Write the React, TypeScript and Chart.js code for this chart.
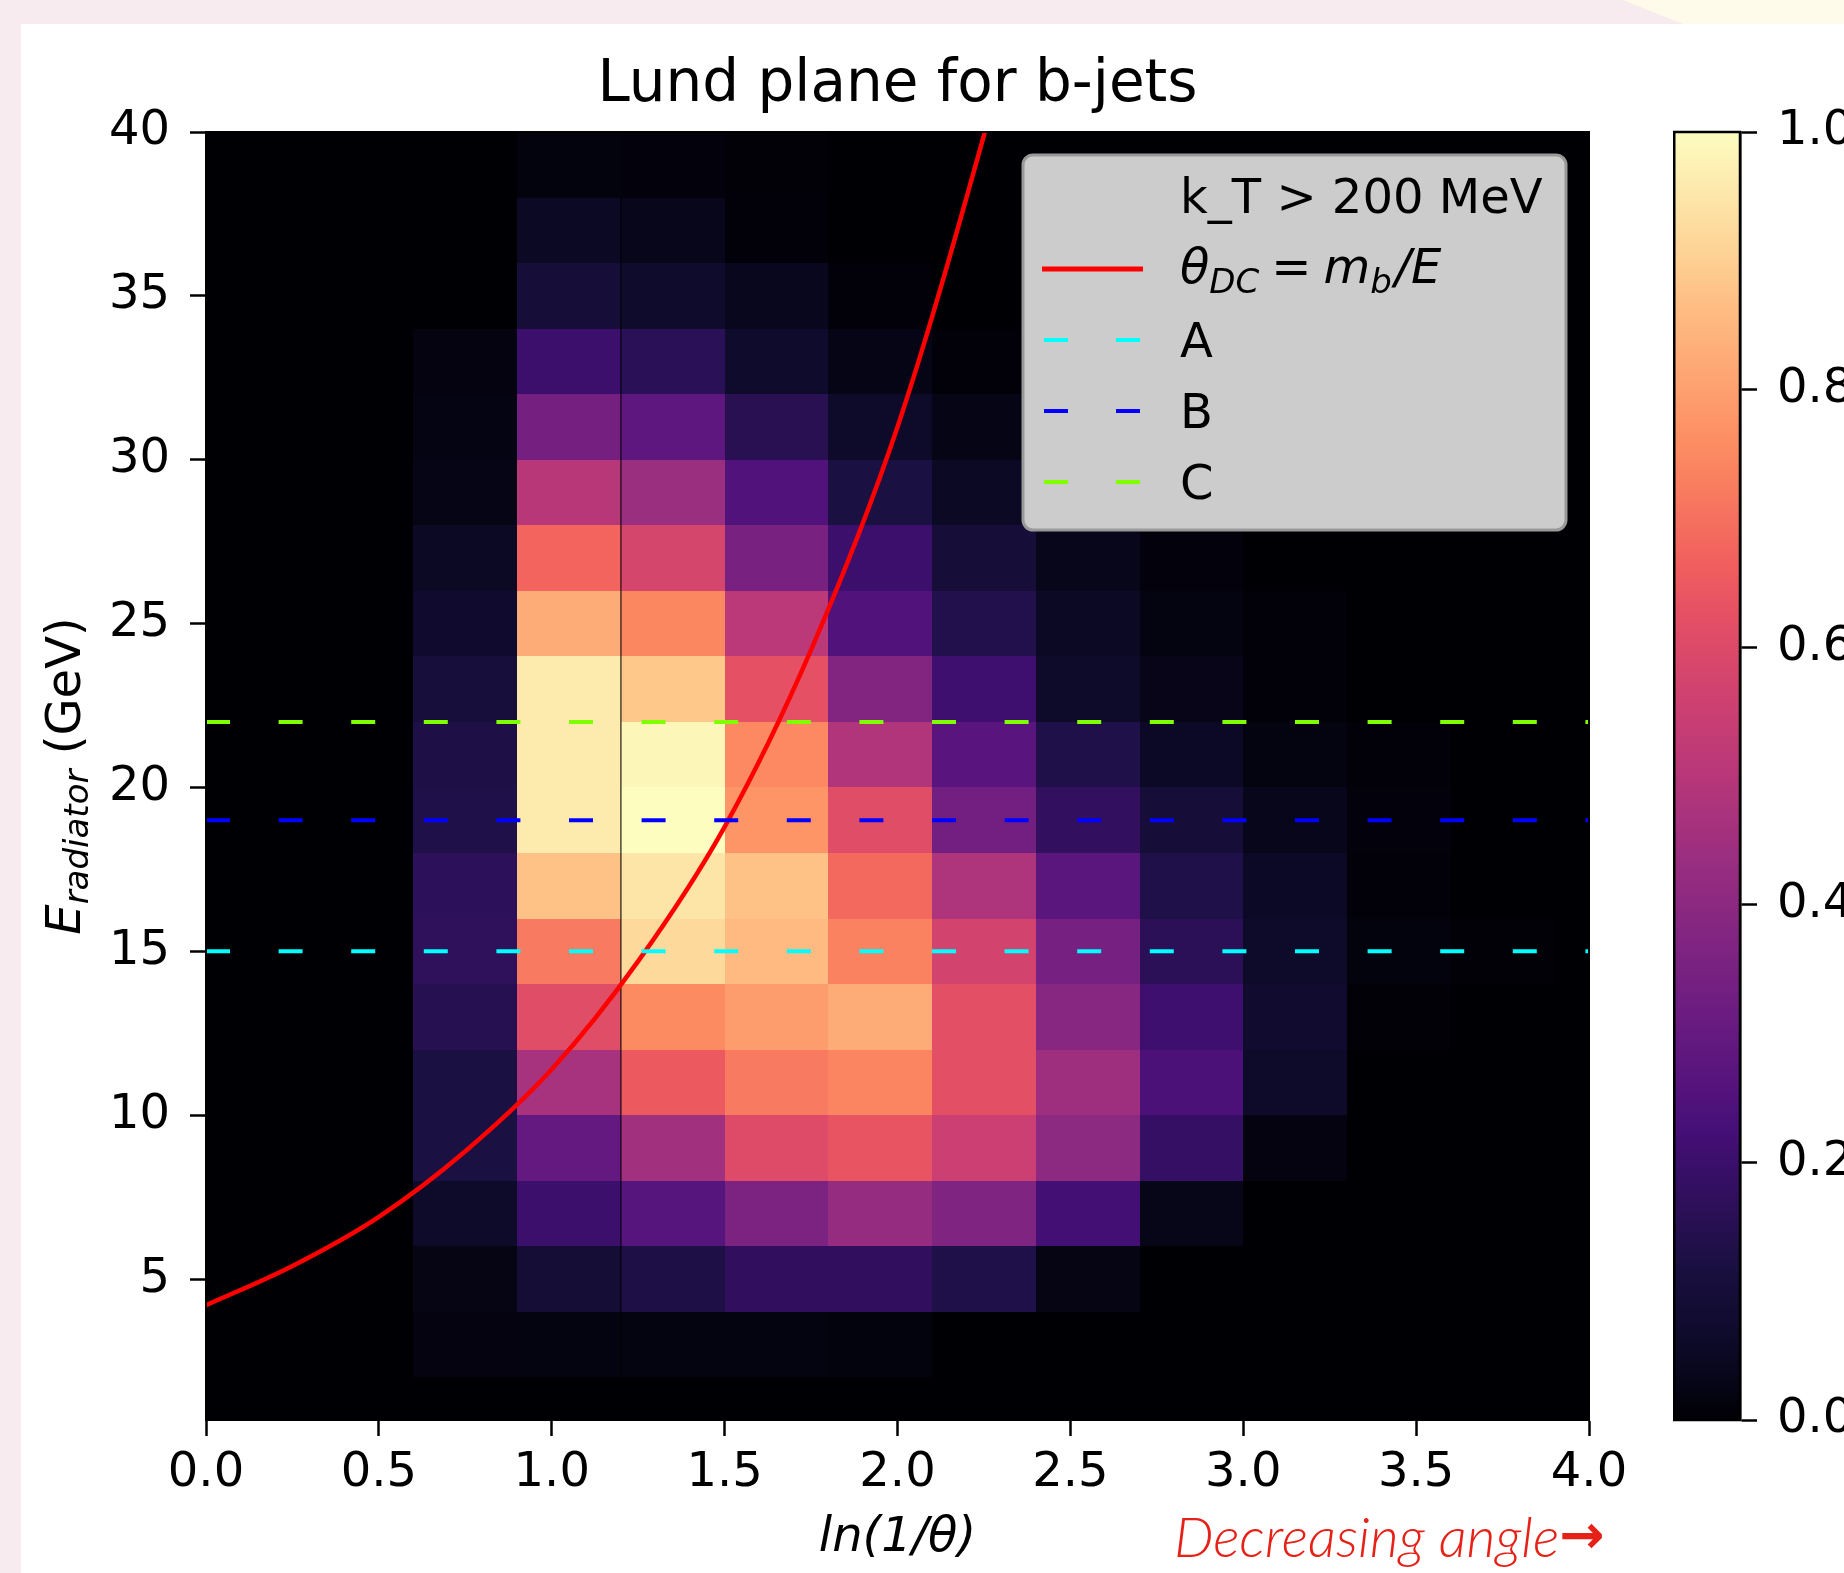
import React, { useEffect, useRef } from "react";
import { Chart, registerables } from "chart.js";

Chart.register(...registerables);

const FONT = "'DejaVu Sans', sans-serif";

// ---------------- data ----------------
const titleText = "Lund plane for b-jets";
const xTitle = "ln(1/θ)";
const legendHeader = "k_T > 200 MeV";

// bin edges of the Lund-plane histogram
const thetaBinEdges = [0, 0.3, 0.6, 0.9, 1.2, 1.5, 1.8, 2.1, 2.4, 2.7, 3.0, 3.3, 3.6, 3.9, 4.2];
const energyBinEdges = [0, 2, 4, 6, 8, 10, 12, 14, 16, 18, 20, 22, 24, 26, 28, 30, 32, 34, 36, 38, 40];

// normalised density: one row per energy bin (bottom to top), one value per ln(1/θ) bin
const lundDensity: number[][] = [
  [0, 0, 0, 0, 0, 0, 0, 0, 0, 0, 0, 0, 0, 0],
  [0, 0, 0.017, 0.02, 0.018, 0.018, 0.015, 0, 0, 0, 0, 0, 0, 0],
  [0, 0, 0.025, 0.095, 0.13, 0.175, 0.175, 0.135, 0.025, 0, 0, 0, 0, 0],
  [0, 0, 0.065, 0.2, 0.262, 0.36, 0.425, 0.37, 0.22, 0.033, 0, 0, 0, 0],
  [0, 0, 0.12, 0.295, 0.45, 0.605, 0.635, 0.55, 0.4, 0.185, 0.017, 0, 0, 0],
  [0, 0, 0.12, 0.465, 0.65, 0.72, 0.74, 0.62, 0.444, 0.237, 0.065, 0, 0, 0],
  [0, 0, 0.15, 0.61, 0.755, 0.793, 0.824, 0.62, 0.39, 0.21, 0.078, 0.005, 0, 0],
  [0, 0, 0.17, 0.72, 0.922, 0.857, 0.735, 0.57, 0.345, 0.162, 0.065, 0.015, 0.005, 0],
  [0, 0, 0.165, 0.875, 0.946, 0.875, 0.685, 0.48, 0.275, 0.135, 0.055, 0.008, 0, 0],
  [0, 0, 0.135, 0.96, 1.0, 0.775, 0.61, 0.335, 0.18, 0.1, 0.035, 0.012, 0, 0],
  [0, 0, 0.13, 0.96, 0.985, 0.75, 0.485, 0.27, 0.135, 0.055, 0.018, 0.008, 0, 0],
  [0, 0, 0.105, 0.96, 0.885, 0.625, 0.375, 0.21, 0.065, 0.03, 0.008, 0, 0, 0],
  [0, 0, 0.075, 0.824, 0.745, 0.51, 0.25, 0.14, 0.05, 0.018, 0.008, 0, 0, 0],
  [0, 0, 0.05, 0.675, 0.58, 0.35, 0.205, 0.1, 0.035, 0.012, 0, 0, 0, 0],
  [0, 0, 0.028, 0.5, 0.435, 0.25, 0.12, 0.05, 0.012, 0, 0, 0, 0, 0],
  [0, 0, 0.022, 0.34, 0.28, 0.155, 0.065, 0.028, 0.008, 0, 0, 0, 0, 0],
  [0, 0, 0.017, 0.2, 0.16, 0.07, 0.028, 0.008, 0, 0, 0, 0, 0, 0],
  [0, 0, 0, 0.1, 0.07, 0.04, 0.008, 0, 0, 0, 0, 0, 0, 0],
  [0, 0, 0, 0.05, 0.035, 0.008, 0, 0, 0, 0, 0, 0, 0, 0],
  [0, 0, 0, 0.015, 0.012, 0.005, 0, 0, 0, 0, 0, 0, 0, 0],
];

const xTickValues = [0, 0.5, 1, 1.5, 2, 2.5, 3, 3.5, 4];
const yTickValues = [5, 10, 15, 20, 25, 30, 35, 40];
const colorbarTicks = [0, 0.2, 0.4, 0.6, 0.8, 1.0];

// dead-cone curve θ_DC = m_b/E
const deadConeX = [0, 0.25, 0.5, 0.75, 1.0, 1.25, 1.5, 1.75, 2.0, 2.25, 2.3];
const deadConeE = [4.2, 5.4, 6.9, 8.9, 11.4, 14.7, 18.8, 24.2, 31.0, 39.9, 41.9];

// horizontal energy cuts
const cutNames = ["A", "B", "C"];
const cutEnergies = [15, 19, 22];
const cutColors = ["#00ffff", "#0000ff", "#7fff00"];

// ---------------- colormap (magma) ----------------
const magmaStops: [number, string][] = [
  [0, "#000004"], [0.05, "#0b0924"], [0.111, "#180f3d"], [0.125, "#1c1044"],
  [0.222, "#440f76"], [0.25, "#51127c"], [0.333, "#721f81"], [0.375, "#812581"],
  [0.444, "#9e2f7f"], [0.5, "#b73779"], [0.556, "#cd4071"], [0.625, "#e55064"],
  [0.667, "#f1605d"], [0.75, "#fc8961"], [0.778, "#fd9668"], [0.875, "#fec287"],
  [0.889, "#feca8d"], [0.95, "#fde6a9"], [1, "#fcfdbf"],
];
function hexRgb(h: string) {
  const n = parseInt(h.slice(1), 16);
  return [(n >> 16) & 255, (n >> 8) & 255, n & 255];
}
function magma(v: number) {
  const t = Math.max(0, Math.min(1, v));
  for (let i = 0; i < magmaStops.length - 1; i++) {
    const [t0, c0] = magmaStops[i];
    const [t1, c1] = magmaStops[i + 1];
    if (t >= t0 && t <= t1) {
      const f = (t - t0) / (t1 - t0);
      const a = hexRgb(c0), b = hexRgb(c1);
      return `rgb(${Math.round(a[0] + (b[0] - a[0]) * f)},${Math.round(a[1] + (b[1] - a[1]) * f)},${Math.round(a[2] + (b[2] - a[2]) * f)})`;
    }
  }
  return magmaStops[magmaStops.length - 1][1];
}

// ---------------- plugins ----------------
const heatmapPlugin = {
  id: "lundHeatmap",
  beforeDatasetsDraw(chart: any) {
    const { ctx, chartArea: ca, scales } = chart;
    const x = scales.x, y = scales.y;
    ctx.save();
    ctx.beginPath();
    ctx.rect(ca.left, ca.top, ca.right - ca.left, ca.bottom - ca.top);
    ctx.clip();
    ctx.fillStyle = magma(0);
    ctx.fillRect(ca.left, ca.top, ca.right - ca.left, ca.bottom - ca.top);
    lundDensity.forEach((row, j) => {
      row.forEach((v, i) => {
        const x0 = Math.round(x.getPixelForValue(thetaBinEdges[i]));
        const x1 = Math.round(x.getPixelForValue(thetaBinEdges[i + 1]));
        const y0 = Math.round(y.getPixelForValue(energyBinEdges[j + 1]));
        const y1 = Math.round(y.getPixelForValue(energyBinEdges[j]));
        ctx.fillStyle = magma(v);
        ctx.fillRect(x0, y0, x1 - x0, y1 - y0);
      });
    });
    ctx.restore();
  },
};

function drawPieces(ctx: CanvasRenderingContext2D, x: number, baseline: number, pieces: { t: string; it?: boolean; sub?: boolean; gap?: number; after?: number }[]) {
  let cx = x;
  for (const p of pieces) {
    const size = p.sub ? 34 : 48;
    ctx.font = `${p.it ? "italic " : ""}${size}px ${FONT}`;
    cx += p.gap || 0;
    ctx.fillText(p.t, cx, baseline + (p.sub ? 10 : 0));
    cx += ctx.measureText(p.t).width + (p.gap || 0) + (p.after || 0);
  }
}

const overlayPlugin = {
  id: "lundOverlay",
  afterDatasetsDraw(chart: any) {
    const { ctx, chartArea: ca } = chart;
    ctx.save();
    // spines
    ctx.strokeStyle = "#000";
    ctx.lineWidth = 2;
    ctx.strokeRect(ca.left, ca.top, ca.right - ca.left, ca.bottom - ca.top);

    // legend box
    const w = 543, h = 375;
    const lx = ca.right - 23 - w;
    const ly = ca.top + 23;
    ctx.beginPath();
    (ctx as any).roundRect(lx, ly, w, h, 10);
    ctx.fillStyle = "#cccccc";
    ctx.fill();
    ctx.strokeStyle = "#999999";
    ctx.lineWidth = 3;
    ctx.stroke();

    const hx0 = lx + 19, hx1 = lx + 120, tx = lx + 157;
    ctx.fillStyle = "#000";
    ctx.textBaseline = "alphabetic";
    ctx.textAlign = "left";
    ctx.font = `48px ${FONT}`;
    ctx.fillText(legendHeader, tx, ly + 58);

    // red curve entry
    ctx.strokeStyle = "#ff0000";
    ctx.lineWidth = 5;
    ctx.setLineDash([]);
    ctx.beginPath();
    ctx.moveTo(hx0, ly + 114);
    ctx.lineTo(hx1, ly + 114);
    ctx.stroke();
    ctx.fillStyle = "#000";
    drawPieces(ctx, tx, ly + 128, [
      { t: "θ", it: true },
      { t: "DC", it: true, sub: true },
      { t: "=", gap: 12 },
      { t: "m", it: true },
      { t: "b", it: true, sub: true, after: 3 },
      { t: "/E", it: true },
    ]);

    const rowBase = [202, 273, 344];
    cutNames.forEach((name, k) => {
      const yy = ly + rowBase[k] - 17;
      ctx.strokeStyle = cutColors[k];
      ctx.lineWidth = 4;
      ctx.setLineDash([24, 48]);
      ctx.beginPath();
      ctx.moveTo(hx0 + 2, yy);
      ctx.lineTo(hx1, yy);
      ctx.stroke();
      ctx.setLineDash([]);
      ctx.fillStyle = "#000";
      ctx.font = `48px ${FONT}`;
      ctx.fillText(name, tx, ly + rowBase[k]);
    });
    ctx.restore();
  },
  afterDraw(chart: any) {
    const { ctx, chartArea: ca } = chart;
    ctx.save();
    ctx.translate(ca.left - 126, (ca.top + ca.bottom) / 2);
    ctx.rotate(-Math.PI / 2);
    ctx.fillStyle = "#000";
    ctx.textBaseline = "alphabetic";
    ctx.textAlign = "left";
    const parts = [
      { t: "E", f: `italic 48px ${FONT}`, dy: 0 },
      { t: "radiator", f: `italic 34px ${FONT}`, dy: 8 },
      { t: " (GeV)", f: `48px ${FONT}`, dy: 0 },
    ];
    let total = 0;
    parts.forEach((p) => { ctx.font = p.f; total += ctx.measureText(p.t).width; });
    let cx = -total / 2;
    parts.forEach((p) => {
      ctx.font = p.f;
      ctx.fillText(p.t, cx, p.dy);
      cx += ctx.measureText(p.t).width;
    });
    ctx.restore();
  },
};

const colorbarPlugin = {
  id: "colorbarFill",
  beforeDatasetsDraw(chart: any) {
    const { ctx, chartArea: ca, scales } = chart;
    const y = scales.y;
    const g = ctx.createLinearGradient(0, y.getPixelForValue(0), 0, y.getPixelForValue(1));
    magmaStops.forEach(([t, c]) => g.addColorStop(t, c));
    ctx.save();
    ctx.fillStyle = g;
    ctx.fillRect(ca.left, ca.top, ca.right - ca.left, ca.bottom - ca.top);
    ctx.restore();
  },
  afterDraw(chart: any) {
    const { ctx, chartArea: ca } = chart;
    ctx.save();
    ctx.strokeStyle = "#000";
    ctx.lineWidth = 2.5;
    ctx.strokeRect(ca.left + 1.25, ca.top, ca.right - ca.left - 1.25, ca.bottom - ca.top);
    ctx.restore();
  },
};

const MAIN_W = 1700;
const PAGE_H = 1573;
const PLOT_TOP = 132;
const PLOT_BOTTOM = 1420;
const CBAR_LEFT = 1673;
const CBAR_W = 260;

export default function App() {
  const mainRef = useRef<HTMLCanvasElement>(null);
  const cbarRef = useRef<HTMLCanvasElement>(null);

  useEffect(() => {
    const tickFont = { family: FONT, size: 48 };
    const gridOpts = { display: true, drawOnChartArea: false, drawTicks: true, tickLength: 16, tickWidth: 2.5, tickColor: "#000" };

    const datasets: any[] = [
      ...cutEnergies.map((e, k) => ({
        label: cutNames[k],
        data: [{ x: xTickValues[0], y: e }, { x: xTickValues[xTickValues.length - 1], y: e }],
        showLine: true,
        borderColor: cutColors[k],
        borderWidth: 4,
        borderDash: [24, 48.6],
        pointRadius: 0,
        clip: 0,
      })),
      {
        label: "θ_DC = m_b/E",
        data: deadConeX.map((x, i) => ({ x, y: deadConeE[i] })),
        showLine: true,
        borderColor: "#ff0000",
        borderWidth: 4.5,
        pointRadius: 0,
        cubicInterpolationMode: "monotone",
        clip: 0,
      },
      {
        label: "seam",
        data: [
          { x: thetaBinEdges[4], y: energyBinEdges[1] },
          { x: thetaBinEdges[4], y: energyBinEdges[19] },
        ],
        showLine: true,
        borderColor: "rgba(0,0,0,0.7)",
        borderWidth: 1.5,
        pointRadius: 0,
        clip: 0,
      },
    ];

    const main = new Chart(mainRef.current as HTMLCanvasElement, {
      type: "scatter",
      data: { datasets },
      options: {
        responsive: false,
        animation: false,
        devicePixelRatio: 1,
        layout: { padding: { left: 0, right: MAIN_W - 1589, top: 0, bottom: 0 } },
        plugins: {
          legend: { display: false },
          tooltip: { enabled: false },
          title: {
            display: true,
            fullSize: false,
            text: titleText,
            color: "#000",
            font: { family: FONT, size: 58, weight: "normal" },
            padding: { top: 51, bottom: PLOT_TOP - 51 - 58 * 1.2 },
          },
        },
        scales: {
          x: {
            type: "linear",
            min: 0,
            max: 4,
            afterBuildTicks: (s: any) => { s.ticks = xTickValues.map((value) => ({ value })); },
            afterFit: (s: any) => { s.height = PAGE_H - PLOT_BOTTOM; },
            ticks: {
              color: "#000",
              font: tickFont,
              padding: 9,
              maxRotation: 0,
              autoSkip: false,
              callback: (v: any) => Number(v).toFixed(1),
            },
            grid: gridOpts,
            border: { display: true, color: "#000", width: 2 },
            title: {
              display: true,
              text: xTitle,
              color: "#000",
              font: { family: FONT, size: 48, style: "italic" },
              padding: { top: 0, bottom: 6 },
            },
          },
          y: {
            type: "linear",
            min: 0.7,
            max: 40,
            afterBuildTicks: (s: any) => { s.ticks = yTickValues.map((value) => ({ value })); },
            afterFit: (s: any) => { s.width = 206; },
            ticks: {
              color: "#000",
              font: tickFont,
              padding: 20,
              autoSkip: false,
              callback: (v: any) => String(v),
            },
            grid: gridOpts,
            border: { display: true, color: "#000", width: 2 },
          },
        },
      } as any,
      plugins: [heatmapPlugin, overlayPlugin],
    });

    const cbar = new Chart(cbarRef.current as HTMLCanvasElement, {
      type: "scatter",
      data: { datasets: [] },
      options: {
        responsive: false,
        animation: false,
        devicePixelRatio: 1,
        layout: { padding: { left: 0, right: 0, top: PLOT_TOP, bottom: PAGE_H - PLOT_BOTTOM } },
        plugins: { legend: { display: false }, tooltip: { enabled: false } },
        scales: {
          x: { display: false, min: 0, max: 1 },
          y: {
            position: "right",
            min: 0,
            max: 1,
            afterBuildTicks: (s: any) => { s.ticks = colorbarTicks.map((value) => ({ value })); },
            afterFit: (s: any) => { s.width = CBAR_W - 67; },
            ticks: {
              color: "#000",
              font: tickFont,
              padding: 20,
              autoSkip: false,
              callback: (v: any) => Number(v).toFixed(1),
            },
            grid: { ...gridOpts, tickLength: 17 },
            border: { display: true, color: "#000", width: 2.5 },
          },
        },
      } as any,
      plugins: [colorbarPlugin],
    });

    return () => {
      main.destroy();
      cbar.destroy();
    };
  }, []);

  return (
    <div
      style={{
        position: "fixed",
        left: 0,
        top: 0,
        width: 1844,
        height: PAGE_H,
        overflow: "hidden",
        background: "#f8ebef",
      }}
    >
      <div
        style={{
          position: "absolute",
          left: 0,
          top: 0,
          width: 1844,
          height: 24,
          background: "#fefbea",
          clipPath: "polygon(1623px 0px, 1844px 0px, 1844px 24px, 1683px 24px)",
        }}
      />
      <div style={{ position: "absolute", left: 21, top: 24, right: 0, bottom: 0, background: "#ffffff" }} />
      <canvas
        ref={mainRef}
        width={MAIN_W}
        height={PAGE_H}
        style={{ position: "absolute", left: 0, top: 0, display: "block" }}
      />
      <canvas
        ref={cbarRef}
        width={CBAR_W}
        height={PAGE_H}
        style={{ position: "absolute", left: CBAR_LEFT, top: 0, display: "block" }}
      />
      <div
        style={{
          position: "absolute",
          left: 1174,
          top: 1508,
          fontFamily: "Lato, 'Open Sans', sans-serif",
          fontStyle: "italic",
          fontWeight: 300,
          fontSize: 56,
          lineHeight: 1,
          color: "#e62117",
          whiteSpace: "nowrap",
        }}
      >
        Decreasing angle
        <span style={{ fontFamily: "'DejaVu Sans', sans-serif", fontStyle: "normal", fontWeight: 700, fontSize: 54, verticalAlign: "4px" }}>→</span>
      </div>
    </div>
  );
}
